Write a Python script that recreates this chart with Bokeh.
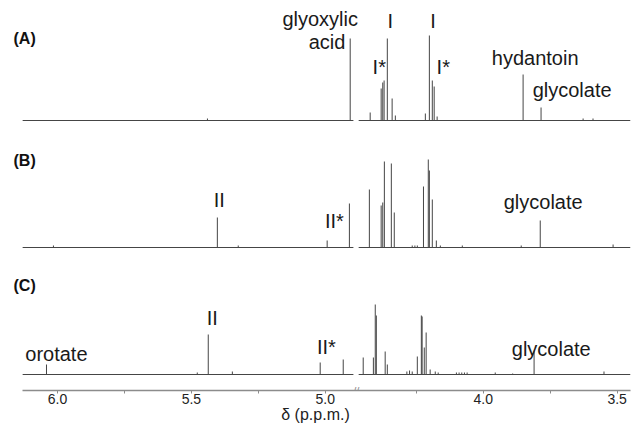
import numpy as np
from bokeh.plotting import figure
from bokeh.models import Range1d, FixedTicker, Label, ColumnDataSource, CustomJSTickFormatter
from bokeh.embed import file_html
from bokeh.resources import INLINE

# ---------------- data (chemical shift in ppm, peak height in a.u.) ----------------
panel_names = ["(A)", "(B)", "(C)"]
panel_offsets = [254, 127, 0]

a_ppm = [5.440, 4.907, 4.422, 4.381, 4.375, 4.370, 4.358, 4.340, 4.328,
         4.216, 4.201, 4.190, 4.183, 4.172, 3.851, 3.784, 3.627, 3.590]
a_int = [2, 82, 8, 32, 38, 40, 82, 22, 5,
         7, 85, 40, 34, 4, 46, 13, 2, 2]

b_ppm = [6.015, 5.403, 5.325, 4.993, 4.910, 4.425, 4.381, 4.375, 4.369, 4.343,
         4.332, 4.265, 4.255, 4.246, 4.223, 4.205, 4.201, 4.190, 4.175, 4.160,
         4.078, 3.858, 3.787, 3.515]
b_int = [2, 30, 2, 7, 44, 58, 42, 45, 86, 84,
         35, 2, 2, 2, 61, 88, 77, 48, 7, 2,
         2, 2, 27, 3]

c_ppm = [6.041, 5.478, 5.437, 5.347, 5.019, 4.933, 4.448, 4.410, 4.403, 4.399,
         4.366, 4.358, 4.285, 4.275, 4.265, 4.246, 4.231, 4.228, 4.220, 4.213,
         4.198, 4.179, 4.168, 4.100, 4.090, 4.080, 4.070, 4.060, 3.955, 3.890,
         3.810, 3.549]
c_int = [10, 2, 40, 3, 12, 15, 17, 17, 70, 59,
         23, 10, 3, 4, 3, 18, 59, 58, 27, 42,
         5, 3, 2, 2, 2, 2, 2, 2, 2, 1,
         24, 3]

# spectral windows shown on either side of the axis break (ppm)
left_window = [6.13, 4.895]
right_window = [4.465, 3.45]
axis_extent = [6.1306, 3.45]

major_ticks_ppm = [6.0, 5.5, 5.0, 4.0, 3.5]
minor_ticks_ppm = [5.75, 5.25, 4.25, 3.75]

# annotations: text, ppm, y (a.u.), align
annotations = [
    ("glyoxylic", 5.019, 356, "center"),
    ("acid", 4.925, 333, "right"),
    ("I", 4.347, 354, "center"),
    ("I", 4.187, 354, "center"),
    ("I*", 4.388, 308, "center"),
    ("I*", 4.149, 308, "center"),
    ("hydantoin", 3.806, 317, "center"),
    ("glycolate", 3.668, 285, "center"),
    ("II", 5.396, 175, "center"),
    ("II*", 4.966, 154, "center"),
    ("glycolate", 3.776, 173, "center"),
    ("orotate", 6.004, 21, "center"),
    ("II", 5.422, 57, "center"),
    ("II*", 4.996, 28, "center"),
    ("glycolate", 3.746, 26, "center"),
]
panel_label_ppm = 6.164
panel_label_y = [336, 214, 89]

# ---------------- broken axis mapping ----------------
BREAK = 4.7          # omitted region (HDO) lies around here
SHIFT = 0.4104       # amount the high-field part is moved to close the gap


def to_axis(ppm):
    arr = np.asarray(ppm, dtype=float)
    return np.where(arr > BREAK, arr, arr + SHIFT)


FONT = "Liberation Sans"
LINE = "#454545"

ax_lo, ax_hi = [float(v) for v in to_axis(axis_extent)]

p = figure(width=632, height=427, output_backend="svg", toolbar_location=None,
           x_range=Range1d(6.2127, ax_hi), y_range=Range1d(-16, 374),
           min_border_left=0, min_border_right=2, min_border_top=0, min_border_bottom=37)
p.outline_line_color = None
p.grid.visible = False
p.yaxis.visible = False
p.background_fill_color = "white"
p.border_fill_color = "white"

for ppm, inten, off in zip([a_ppm, b_ppm, c_ppm], [a_int, b_int, c_int], panel_offsets):
    xs = to_axis(ppm)
    src = ColumnDataSource(dict(x=xs, y0=np.full(len(xs), off, dtype=float),
                                y1=off + np.asarray(inten, dtype=float)))
    p.segment(x0="x", y0="y0", x1="x", y1="y1", source=src, line_color=LINE, line_width=1)
    bx0 = to_axis([left_window[0], right_window[0]])
    bx1 = to_axis([left_window[1], right_window[1]])
    p.segment(x0=bx0, y0=[off, off], x1=bx1, y1=[off, off], line_color=LINE, line_width=1)

ax = p.xaxis[0]
ax.bounds = (ax_lo, ax_hi)
ax.ticker = FixedTicker(ticks=list(to_axis(major_ticks_ppm)),
                        minor_ticks=list(to_axis(minor_ticks_ppm)))
ax.formatter = CustomJSTickFormatter(args=dict(shift=SHIFT),
                                     code="return (tick > 4.885 ? tick : tick - shift).toFixed(1);")
ax.axis_label = "δ (p.p.m.)"
ax.axis_line_color = "#8c8c8c"
ax.axis_line_width = 1.5
ax.major_tick_line_color = "#8c8c8c"
ax.minor_tick_line_color = "#8c8c8c"
ax.major_tick_out = 3
ax.major_tick_in = 0
ax.minor_tick_out = 3
ax.minor_tick_in = 0
ax.major_label_text_font = FONT
ax.major_label_text_font_size = "14px"
ax.major_label_text_color = "#222222"
ax.major_label_standoff = 0
ax.axis_label_text_font = FONT
ax.axis_label_text_font_size = "16px"
ax.axis_label_text_font_style = "normal"
ax.axis_label_text_color = "#222222"
ax.axis_label_standoff = -1

# break mark on the axis
p.add_layout(Label(x=4.884, y=-16, text="//",
                   text_font=FONT, text_font_size="11px", text_color="#8c8c8c",
                   text_align="center", text_baseline="middle"))

for name, y in zip(panel_names, panel_label_y):
    p.add_layout(Label(x=panel_label_ppm, y=y, text=name, text_font=FONT,
                       text_font_size="16px", text_font_style="bold", text_color="#111111",
                       text_align="left", text_baseline="middle"))

for text, ppm, y, align in annotations:
    p.add_layout(Label(x=float(to_axis([ppm])[0]), y=y, text=text, text_font=FONT,
                       text_font_size="20px", text_color="#1a1a1a",
                       text_align=align, text_baseline="alphabetic"))

open("out.html", "w").write(file_html(p, INLINE))
